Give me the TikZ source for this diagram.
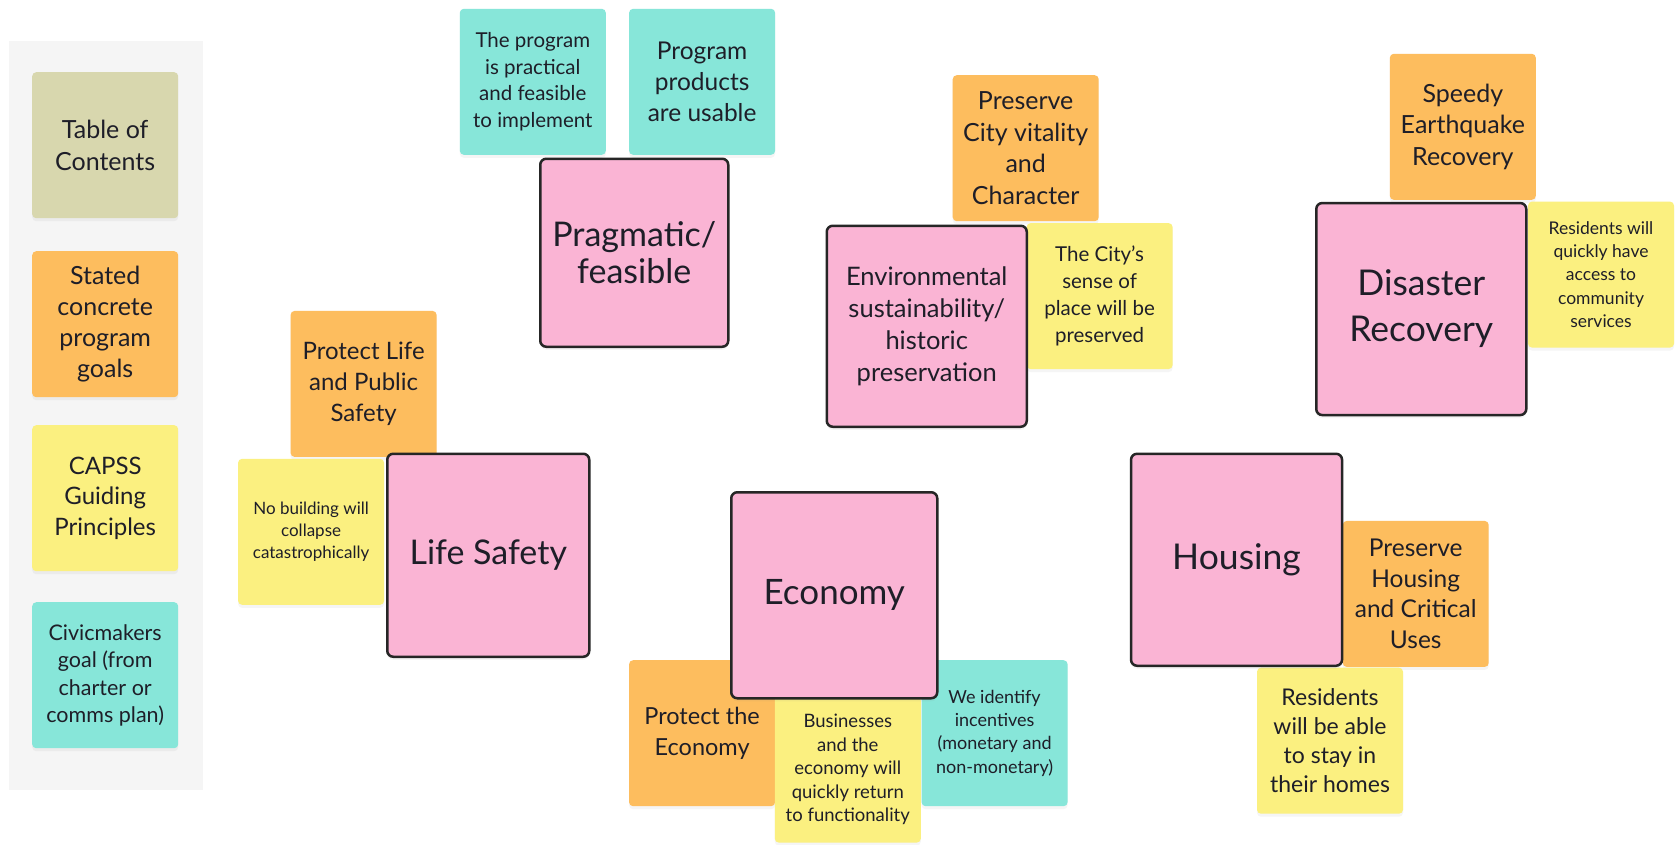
\documentclass[tikz,border=0pt]{standalone}
\usepackage{fontspec}
\setmainfont{Lato}
\usetikzlibrary{shadows}
\definecolor{pinkc}{RGB}{250,180,212}
\definecolor{orangec}{RGB}{253,189,94}
\definecolor{yellowc}{RGB}{251,240,128}
\definecolor{tealc}{RGB}{135,230,217}
\definecolor{tocc}{RGB}{216,215,174}
\definecolor{panelc}{RGB}{245,245,245}
\definecolor{txtc}{RGB}{30,30,40}
\newcommand{\fsz}[2]{\fontsize{#1}{#2}\selectfont}
\begin{document}
\begin{tikzpicture}[x=1pt,y=-1pt,
  sticky/.style={anchor=north west, rounded corners=4pt, minimum width=146pt, minimum height=146pt,
     inner sep=0pt, align=center, text=txtc,
     drop shadow={shadow xshift=0pt, shadow yshift=-3pt, opacity=0.08}},
  onote/.style={sticky, fill=orangec},
  ynote/.style={sticky, fill=yellowc},
  tnote/.style={sticky, fill=tealc},
  knote/.style={sticky, fill=tocc},
  bignote/.style={anchor=north west, rounded corners=6pt, fill=pinkc, draw=black!85, line width=2.5pt,
     inner sep=0pt, align=center, text=txtc,
     drop shadow={shadow xshift=0pt, shadow yshift=-3pt, opacity=0.08}},
]
\useasboundingbox[fill=white] (0,0) rectangle (1680,844);
% sidebar
\fill[panelc] (8.6,40.7) rectangle (202.5,789.6);
\node[knote, font=\fsz{25}{32}] (toc) at (32,72) {Table of\\Contents};
\node[onote, font=\fsz{25}{31}] (stated) at (32,251) {Stated\\concrete\\program\\goals};
\node[ynote, font=\fsz{24}{30.6}] (capss) at (32,425) {CAPSS\\Guiding\\Principles};
\node[tnote, font=\fsz{21.5}{27.5}] (civic) at (32,602) {Civicmakers\\goal (from\\charter or\\comms plan)};
% pragmatic group
\node[tnote, font=\fsz{20.5}{26.8}] (practical) at (459.6,8.6) {The program\\is practical\\and feasible\\to implement};
\node[tnote, font=\fsz{24.5}{31}] (usable) at (628.9,8.6) {Program\\products\\are usable};
% environmental group
\node[onote, font=\fsz{25}{31.5}] (vitality) at (952.5,75) {Preserve\\City vitality\\and\\Character};
\node[ynote, font=\fsz{20.5}{27}] (place) at (1026.4,222.9) {The City's\\sense of\\place will be\\preserved};
% disaster group
\node[onote, font=\fsz{25}{31.6}] (speedy) at (1389.6,53.6) {Speedy\\Earthquake\\Recovery};
\node[ynote, font=\fsz{17.5}{23.3}] (access) at (1527.8,201.4) {Residents will\\quickly have\\access to\\community\\services};
% life safety group
\node[onote, font=\fsz{24}{31}] (protlife) at (290.4,310.7) {Protect Life\\and Public\\Safety};
\node[ynote, font=\fsz{17}{22}] (collapse) at (237.9,458.6) {No building will\\collapse\\catastrophically};
% economy group
\node[onote, font=\fsz{23.5}{31}] (protecon) at (628.9,660) {Protect the\\Economy};
\node[ynote, font=\fsz{18.5}{23.6}] (business) at (774.6,696.4) {Businesses\\and the\\economy will\\quickly return\\to functionality};
\node[tnote, font=\fsz{18}{23.2}] (incent) at (921.4,660) {We identify\\incentives\\(monetary and\\non-monetary)};
% housing group
\node[onote, font=\fsz{24.5}{30.7}] (presh) at (1342.5,520.7) {Preserve\\Housing\\and Critical\\Uses};
\node[ynote, font=\fsz{23}{29}] (stay) at (1256.8,667.5) {Residents\\will be able\\to stay in\\their homes};
% pink main notes
\node[bignote, minimum width=188pt, minimum height=188pt, font=\fsz{34}{37.5}] (pragmatic) at (539,157.5) {Pragmatic/\\feasible};
\node[bignote, minimum width=200pt, minimum height=201pt, font=\fsz{25.5}{32}] (env) at (825.5,224.5) {Environmental\\sustainability/\\historic\\preservation};
\node[bignote, minimum width=210pt, minimum height=212pt, font=\fsz{35.5}{46}] (disaster) at (1315,201.8) {Disaster\\Recovery};
\node[bignote, minimum width=202pt, minimum height=203pt, font=\fsz{34}{40}] (life) at (386,452.5) {Life Safety};
\node[bignote, minimum width=206pt, minimum height=206pt, font=\fsz{35}{40}] (economy) at (730,491) {Economy};
\node[bignote, minimum width=211pt, minimum height=212pt, font=\fsz{35.5}{40}] (housing) at (1129.8,452.5) {Housing};
\end{tikzpicture}
\end{document}
